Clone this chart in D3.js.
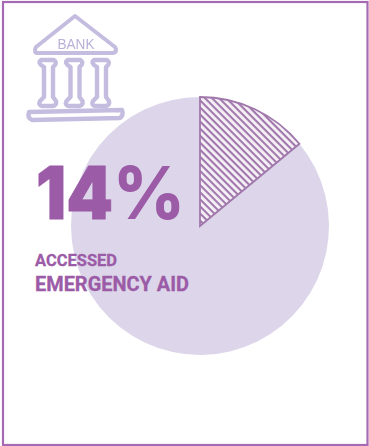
<!DOCTYPE html>
<html>
<head>
<meta charset="utf-8">
<script src="https://cdn.jsdelivr.net/npm/d3@7"></script>
<style>
html,body{margin:0;padding:0;background:#fff;}
svg{display:block;}
</style>
</head>
<body>
<svg id="chart" width="369" height="446"></svg>
<script>
// Share of respondents, in percent
const categories = ["Accessed emergency aid", "Did not access"];
const shares = [14, 86];
const headlineDigits = "14";
const headlineUnit = "%";
const captionLines = ["ACCESSED", "EMERGENCY AID"];

const purple = "#9b5ba6";
const lilac = "#ddd6ea";
const iconColor = "#c5bde0";
const hatchColor = "#a178ac";

const svg = d3.select("#chart");

// Diagonal stripes for the highlighted slice
const defs = svg.append("defs");
defs.append("filter").attr("id", "soft")
  .append("feGaussianBlur").attr("stdDeviation", 0.4);
const hatch = defs.append("pattern")
  .attr("id", "hatch")
  .attr("patternUnits", "userSpaceOnUse")
  .attr("width", 5).attr("height", 5)
  .attr("patternTransform", "rotate(45)");
hatch.append("rect").attr("width", 5).attr("height", 5).attr("fill", "#f6f1f7");
hatch.append("rect").attr("width", 5).attr("height", 2.1).attr("fill", hatchColor);

// Outer frame
svg.append("rect")
  .attr("x", 3).attr("y", 2)
  .attr("width", 364.5).attr("height", 443)
  .attr("fill", "none").attr("stroke", "#a56ab3").attr("stroke-width", 2.2);

// Pie
const radius = 129;
const pie = d3.pie().sort(null).value(d => d)(shares);
const arc = d3.arc().innerRadius(0).outerRadius(radius);
const pieG = svg.append("g").attr("transform", "translate(200,226)");
pieG.selectAll("path")
  .data(pie.slice().reverse())
  .join("path")
  .attr("d", arc)
  .attr("fill", d => d.index === 0 ? "url(#hatch)" : lilac)
  .attr("stroke", d => d.index === 0 ? hatchColor : "none")
  .attr("stroke-width", d => d.index === 0 ? 1.8 : 0)
  .attr("stroke-linejoin", "miter");

// Bank icon
const icon = svg.append("g")
  .attr("fill", "none")
  .attr("stroke", iconColor)
  .attr("stroke-linecap", "round")
  .attr("stroke-linejoin", "round")
  .attr("filter", "url(#soft)");
icon.append("path").attr("stroke-width", 4)
  .attr("d", "M75,16 L36,47 Q33,53 38,53 L113,53 Q118,52 115,47 Z");
icon.selectAll("path.col")
  .data([0, 26.5, 53])
  .join("path")
  .attr("class", "col")
  .attr("stroke-width", 4.4)
  .attr("transform", d => `translate(${d},0)`)
  .attr("d", "M41,60 L54,60 Q57,62 55,65 L53,67 L53,97 L56,101 Q57,105 53,106 L42,106 Q38,105 40,101 L44,97 L44,67 L41,65 Q38,62 41,60 Z");
icon.append("path").attr("stroke-width", 4.4)
  .attr("d", "M29,112 L122,110 Q124,115 120,118 L32,120 Q27,118 29,112 Z");
icon.append("text")
  .attr("x", 76).attr("y", 49)
  .attr("text-anchor", "middle")
  .attr("font-family", "'Liberation Sans', sans-serif")
  .attr("font-size", 15)
  .attr("fill", "#b9afd8").attr("stroke", "none")
  .attr("textLength", 37)
  .attr("lengthAdjust", "spacingAndGlyphs")
  .text("BANK");

// Headline figure and caption
svg.append("text")
  .attr("x", 36).attr("y", 219)
  .attr("font-family", "Inter, sans-serif")
  .attr("font-weight", 900)
  .attr("font-size", 73)
  .attr("fill", purple)
  .attr("stroke", purple).attr("stroke-width", 0.8)
  .attr("textLength", 77)
  .attr("lengthAdjust", "spacingAndGlyphs")
  .text(headlineDigits);
svg.append("text")
  .attr("x", 113).attr("y", 219)
  .attr("font-family", "Inter, sans-serif")
  .attr("font-weight", 800)
  .attr("font-size", 73)
  .attr("fill", purple)
  .attr("textLength", 72)
  .attr("lengthAdjust", "spacingAndGlyphs")
  .text(headlineUnit);
const capY = [266, 291];
const capSize = [17, 21];
const capLen = [82, 154];
captionLines.forEach((line, i) => {
  svg.append("text")
    .attr("x", 35).attr("y", capY[i])
    .attr("font-family", "Roboto, sans-serif")
    .attr("font-weight", 700)
    .attr("font-size", capSize[i])
    .attr("fill", purple)
    .attr("stroke", purple).attr("stroke-width", 0.3)
    .attr("textLength", capLen[i])
    .attr("lengthAdjust", "spacingAndGlyphs")
    .text(line);
});
</script>
</body>
</html>
